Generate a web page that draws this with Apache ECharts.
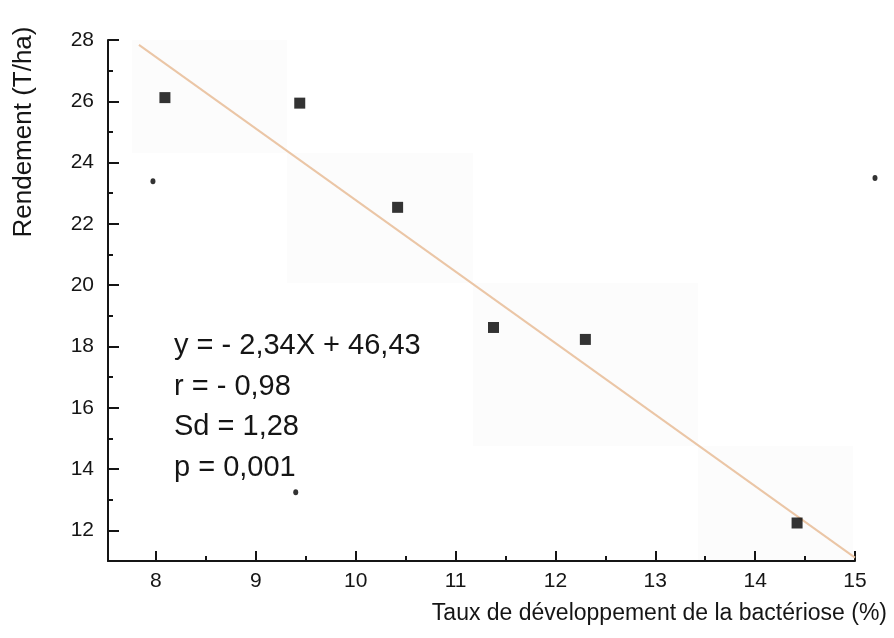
<!DOCTYPE html>
<html>
<head>
<meta charset="utf-8">
<script src="https://cdn.jsdelivr.net/npm/echarts@6/dist/echarts.min.js"></script>
<style>
  html, body { margin: 0; padding: 0; background: #fff; }
  #chart { width: 894px; height: 638px; }
</style>
</head>
<body>
<div id="chart"></div>
<script>
// values
const squarePoints = [
  [8.09, 26.12],
  [9.44, 25.94],
  [10.42, 22.54],
  [11.38, 18.62],
  [12.30, 18.23],
  [14.42, 12.24]
];
const dotPoints = [
  [7.97, 23.39],
  [9.40, 13.24],
  [15.20, 23.50]
];
// fitted line y = -2.34x + 46.43, end points as drawn
const fitLine = [
  [7.83, 27.84],
  [15.0, 11.11]
];
const xMajor = [8, 9, 10, 11, 12, 13, 14, 15];
const xMinor = [8.5, 9.5, 10.5, 11.5, 12.5, 13.5, 14.5];
const yMajor = [12, 14, 16, 18, 20, 22, 24, 26, 28];
const yMinor = [13, 15, 17, 19, 21, 23, 25, 27];
const statLines = ["y = - 2,34X + 46,43", "r = - 0,98", "Sd = 1,28", "p = 0,001"];

const font = "'Liberation Sans', Arial, sans-serif";
const ink = "#151515";

const chart = echarts.init(document.getElementById("chart"));

const xBase = { type: "value", min: 7.52, max: 15, gridIndex: 0, splitLine: { show: false } };
const yBase = { type: "value", min: 11, max: 28, gridIndex: 0, splitLine: { show: false } };

// faint scan shading behind the plot
const shade = [
  [132, 40, 155, 113],
  [287, 153, 186, 130],
  [473, 283, 225, 163],
  [698, 446, 155, 114]
].map(r => ({
  type: "rect", silent: true, z: -10,
  shape: { x: r[0], y: r[1], width: r[2], height: r[3] },
  style: { fill: "#fcfcfc" }
}));

chart.setOption({
  animation: false,
  backgroundColor: "#fff",
  grid: { left: 108, right: 39, top: 40, bottom: 77 },
  xAxis: [
    Object.assign({}, xBase, {
      position: "bottom",
      axisLine: { lineStyle: { color: ink, width: 2 } },
      axisTick: { inside: true, length: 10, customValues: xMajor, lineStyle: { color: ink, width: 2 } },
      axisLabel: { customValues: xMajor, margin: 10, fontSize: 21, color: ink, fontFamily: font }
    }),
    Object.assign({}, xBase, {
      position: "bottom",
      axisLine: { show: false },
      axisTick: { inside: true, length: 5, customValues: xMinor, lineStyle: { color: ink, width: 2 } },
      axisLabel: { show: false }
    })
  ],
  yAxis: [
    Object.assign({}, yBase, {
      position: "left",
      axisLine: { show: true, lineStyle: { color: ink, width: 2 } },
      axisTick: { show: true, inside: true, length: 11, customValues: yMajor, lineStyle: { color: ink, width: 2 } },
      axisLabel: { customValues: yMajor, margin: 14, fontSize: 21, color: ink, fontFamily: font }
    }),
    Object.assign({}, yBase, {
      position: "left",
      axisLine: { show: false },
      axisTick: { show: true, inside: true, length: 5, customValues: yMinor, lineStyle: { color: ink, width: 2 } },
      axisLabel: { show: false }
    })
  ],
  series: [
    {
      type: "line",
      data: fitLine,
      symbol: "none",
      lineStyle: { color: "#ebc6a6", width: 2 },
      z: 1
    },
    {
      type: "scatter",
      data: squarePoints,
      symbol: "rect",
      symbolSize: 11,
      itemStyle: { color: "#000" },
      z: 3
    },
    {
      type: "scatter",
      data: dotPoints,
      symbol: "circle",
      symbolSize: [5, 6],
      clip: false,
      itemStyle: { color: "#000" },
      z: 3
    }
  ],
  graphic: shade.concat([
    {
      type: "text",
      x: 24, y: 132,
      rotation: Math.PI / 2,
      style: { text: "Rendement (T/ha)", font: "26px " + font, fill: ink, align: "center", verticalAlign: "middle" }
    },
    {
      type: "text",
      x: 887, y: 614,
      style: { text: "Taux de développement de la bactériose (%)", font: "23px " + font, fill: ink, align: "right", verticalAlign: "middle" }
    }
  ]).concat(statLines.map((t, i) => ({
    type: "text",
    x: 174, y: 346 + i * 40.6,
    style: { text: t, font: "29px " + font, fill: ink, align: "left", verticalAlign: "middle" }
  })))
});
</script>
</body>
</html>
